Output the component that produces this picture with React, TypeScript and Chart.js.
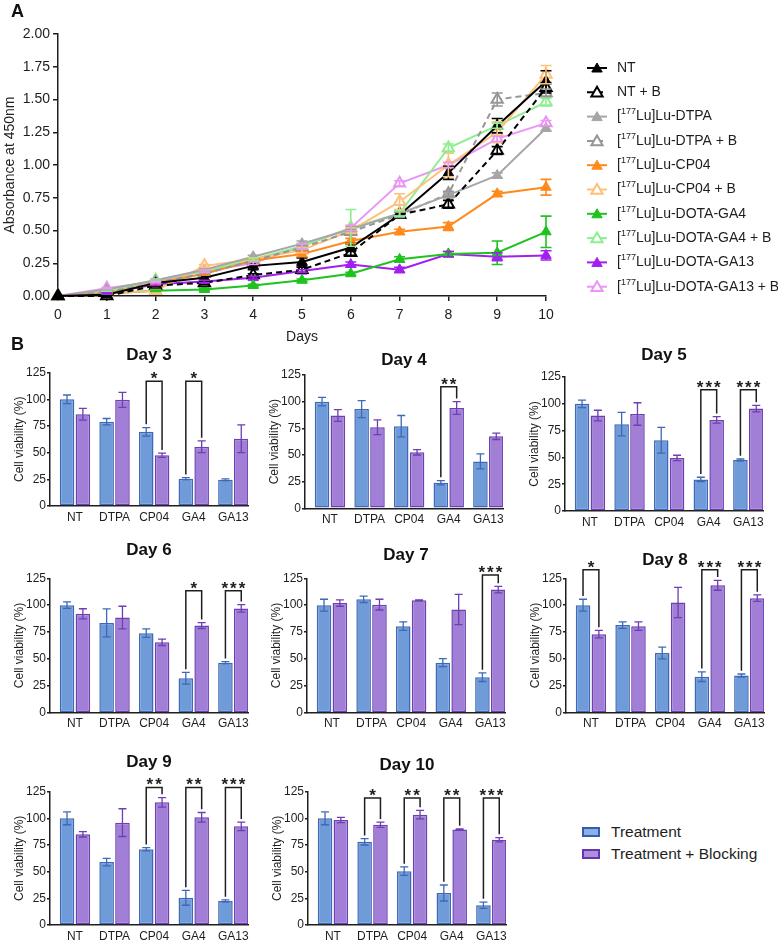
import React, { useEffect, useRef } from 'react';
import { Chart, registerables } from 'chart.js';

Chart.register(...registerables);

const FONT = '"Liberation Sans", Arial, Helvetica, sans-serif';
const INK = '#1e1e1e';

// ---------- Panel A: absorbance growth curves ----------
const days = [0, 1, 2, 3, 4, 5, 6, 7, 8, 9, 10];

const ntMean = [0, 0.01, 0.1, 0.14, 0.23, 0.26, 0.37, 0.62, 0.94, 1.3, 1.64];
const ntSd = [0, 0.005, 0.01, 0.02, 0.03, 0.03, 0.03, 0.02, 0.05, 0.055, 0.08];
const ntBlockMean = [0, 0, 0.08, 0.1, 0.16, 0.2, 0.33, 0.62, 0.7, 1.11, 1.59];
const ntBlockSd = [0, 0, 0.01, 0.01, 0.01, 0.02, 0.02, 0.02, 0.03, 0.03, 0.04];
const dtpaMean = [0, 0.05, 0.12, 0.2, 0.3, 0.4, 0.51, 0.63, 0.77, 0.92, 1.28];
const dtpaSd = [0, 0.005, 0.01, 0.01, 0.01, 0.02, 0.02, 0.02, 0.02, 0.02, 0.02];
const dtpaBlockMean = [0, 0.03, 0.1, 0.17, 0.27, 0.37, 0.49, 0.62, 0.78, 1.5, 1.55];
const dtpaBlockSd = [0, 0.005, 0.01, 0.01, 0.01, 0.02, 0.02, 0.02, 0.02, 0.05, 0.03];
const cp04Mean = [0, 0.02, 0.1, 0.17, 0.27, 0.32, 0.42, 0.49, 0.53, 0.78, 0.83];
const cp04Sd = [0, 0.005, 0.01, 0.01, 0.01, 0.02, 0.02, 0.02, 0.03, 0.02, 0.06];
const cp04BlockMean = [0, 0.02, 0.04, 0.23, 0.28, 0.35, 0.5, 0.72, 1.0, 1.25, 1.69];
const cp04BlockSd = [0, 0.005, 0.01, 0.01, 0.01, 0.02, 0.02, 0.06, 0.09, 0.08, 0.07];
const ga4Mean = [0, 0.02, 0.04, 0.05, 0.08, 0.12, 0.17, 0.28, 0.32, 0.33, 0.49];
const ga4Sd = [0, 0.005, 0.005, 0.01, 0.01, 0.01, 0.01, 0.02, 0.02, 0.09, 0.12];
const ga4BlockMean = [0, 0.03, 0.12, 0.19, 0.28, 0.38, 0.52, 0.63, 1.13, 1.3, 1.48];
const ga4BlockSd = [0, 0.005, 0.01, 0.01, 0.01, 0.02, 0.14, 0.02, 0.03, 0.02, 0.03];
const ga13Mean = [0, 0.02, 0.09, 0.11, 0.14, 0.19, 0.24, 0.2, 0.32, 0.3, 0.31];
const ga13Sd = [0, 0.005, 0.01, 0.01, 0.01, 0.01, 0.02, 0.02, 0.02, 0.03, 0.035];
const ga13BlockMean = [0, 0.06, 0.11, 0.19, 0.25, 0.38, 0.52, 0.86, 1.0, 1.2, 1.32];
const ga13BlockSd = [0, 0.005, 0.01, 0.01, 0.01, 0.02, 0.02, 0.02, 0.02, 0.02, 0.02];

const growthSeries = [
  { label: 'NT', mean: ntMean, sd: ntSd, color: '#000000', open: false, dashed: false },
  { label: 'NT + B', mean: ntBlockMean, sd: ntBlockSd, color: '#000000', open: true, dashed: true },
  { label: '[177Lu]Lu-DTPA', mean: dtpaMean, sd: dtpaSd, color: '#a6a6a6', open: false, dashed: false },
  { label: '[177Lu]Lu-DTPA + B', mean: dtpaBlockMean, sd: dtpaBlockSd, color: '#969696', open: true, dashed: true },
  { label: '[177Lu]Lu-CP04', mean: cp04Mean, sd: cp04Sd, color: '#ff8a1c', open: false, dashed: false },
  { label: '[177Lu]Lu-CP04 + B', mean: cp04BlockMean, sd: cp04BlockSd, color: '#ffc07a', open: true, dashed: false },
  { label: '[177Lu]Lu-DOTA-GA4', mean: ga4Mean, sd: ga4Sd, color: '#1fc21f', open: false, dashed: false },
  { label: '[177Lu]Lu-DOTA-GA4 + B', mean: ga4BlockMean, sd: ga4BlockSd, color: '#8fee8f', open: true, dashed: false },
  { label: '[177Lu]Lu-DOTA-GA13', mean: ga13Mean, sd: ga13Sd, color: '#a31ff0', open: false, dashed: false },
  { label: '[177Lu]Lu-DOTA-GA13 + B', mean: ga13BlockMean, sd: ga13BlockSd, color: '#e996f4', open: true, dashed: false },
];

// ---------- Panel B: cell viability per day ----------
const barCategories = ['NT', 'DTPA', 'CP04', 'GA4', 'GA13'];

const day3Treatment = [100, 79, 69.5, 25.5, 24.5];
const day3TreatmentSd = [4, 3, 4, 1, 1];
const day3Blocking = [86, 99.5, 47.5, 55.5, 63];
const day3BlockingSd = [5.5, 7, 2, 5.5, 13];
const day3Sig = [{ index: 2, label: '*' }, { index: 3, label: '*' }];

const day4Treatment = [100, 93, 77, 24, 44];
const day4TreatmentSd = [4, 8, 10, 2, 7];
const day4Blocking = [87, 76, 52.5, 94, 67.5];
const day4BlockingSd = [5.5, 7, 2.5, 6, 3];
const day4Sig = [{ index: 3, label: '**' }];

const day5Treatment = [100, 81, 66, 29.5, 47.5];
const day5TreatmentSd = [3.5, 11, 12, 2, 1];
const day5Blocking = [89, 90.5, 49.5, 85, 95.5];
const day5BlockingSd = [5, 10.5, 2.5, 3, 3];
const day5Sig = [{ index: 3, label: '***' }, { index: 4, label: '***' }];

const day6Treatment = [100, 83.5, 74, 32, 46.5];
const day6TreatmentSd = [3, 13, 4, 5.5, 1];
const day6Blocking = [92, 88.5, 65.5, 81, 97];
const day6BlockingSd = [4.7, 10.5, 3, 2.7, 3.5];
const day6Sig = [{ index: 3, label: '*' }, { index: 4, label: '***' }];

const day7Treatment = [100, 105.5, 80.5, 46.5, 33];
const day7TreatmentSd = [5.5, 3, 4, 3.7, 4];
const day7Blocking = [102, 100.5, 104.5, 96, 114.5];
const day7BlockingSd = [3, 5, 0.5, 14, 3];
const day7Sig = [{ index: 4, label: '***' }];

const day8Treatment = [100, 81.5, 55.5, 33.5, 34.5];
const day8TreatmentSd = [5.5, 3, 5.5, 4.5, 1.5];
const day8Blocking = [73, 80.5, 102.5, 118.5, 106.5];
const day8BlockingSd = [3.5, 4, 14, 4.6, 3];
const day8Sig = [{ index: 0, label: '*' }, { index: 3, label: '***' }, { index: 4, label: '***' }];

const day9Treatment = [100, 59, 71, 25.5, 22.5];
const day9TreatmentSd = [6, 3.5, 1.5, 7, 1];
const day9Blocking = [85, 96, 115, 101, 92.5];
const day9BlockingSd = [2.5, 13, 4.5, 4.5, 4];
const day9Sig = [{ index: 2, label: '**' }, { index: 3, label: '**' }, { index: 4, label: '***' }];

const day10Treatment = [100, 78, 50.5, 30, 18.5];
const day10TreatmentSd = [6, 3, 4, 7.5, 3];
const day10Blocking = [98.5, 94, 103.5, 89.5, 80];
const day10BlockingSd = [2.5, 2.5, 4, 0.5, 2];
const day10Sig = [{ index: 1, label: '*' }, { index: 2, label: '**' }, { index: 3, label: '**' }, { index: 4, label: '***' }];

const viabilityDays = [
  { title: 'Day 3', treat: day3Treatment, treatSd: day3TreatmentSd, block: day3Blocking, blockSd: day3BlockingSd, sig: day3Sig, bracketTop: 117 },
  { title: 'Day 4', treat: day4Treatment, treatSd: day4TreatmentSd, block: day4Blocking, blockSd: day4BlockingSd, sig: day4Sig, bracketTop: 114 },
  { title: 'Day 5', treat: day5Treatment, treatSd: day5TreatmentSd, block: day5Blocking, blockSd: day5BlockingSd, sig: day5Sig, bracketTop: 113 },
  { title: 'Day 6', treat: day6Treatment, treatSd: day6TreatmentSd, block: day6Blocking, blockSd: day6BlockingSd, sig: day6Sig, bracketTop: 113.5 },
  { title: 'Day 7', treat: day7Treatment, treatSd: day7TreatmentSd, block: day7Blocking, blockSd: day7BlockingSd, sig: day7Sig, bracketTop: 128 },
  { title: 'Day 8', treat: day8Treatment, treatSd: day8TreatmentSd, block: day8Blocking, blockSd: day8BlockingSd, sig: day8Sig, bracketTop: 133 },
  { title: 'Day 9', treat: day9Treatment, treatSd: day9TreatmentSd, block: day9Blocking, blockSd: day9BlockingSd, sig: day9Sig, bracketTop: 129 },
  { title: 'Day 10', treat: day10Treatment, treatSd: day10TreatmentSd, block: day10Blocking, blockSd: day10BlockingSd, sig: day10Sig, bracketTop: 119 },
];

// Page placement of each small chart: y-axis x, pixel rows of 125 and 0, title centre
const panelSlots = [
  { axisX: 50, top: 372.6, bottom: 506, titleY: 355 },
  { axisX: 305, top: 375, bottom: 508.3, titleY: 360 },
  { axisX: 565, top: 377, bottom: 511, titleY: 355 },
  { axisX: 50, top: 578.3, bottom: 712.7, titleY: 550 },
  { axisX: 307, top: 578.3, bottom: 712.7, titleY: 555 },
  { axisX: 566, top: 578.3, bottom: 712.7, titleY: 560 },
  { axisX: 50, top: 791.7, bottom: 925, titleY: 762 },
  { axisX: 308, top: 791.7, bottom: 925, titleY: 765 },
];

const BLUE_FILL = '#6f9bd9';
const BLUE_EDGE = '#3e69b6';
const PURPLE_FILL = '#a17fd6';
const PURPLE_EDGE = '#6d3fb2';

// ---------- plugins ----------
const errorBarsPlugin = {
  id: 'errorBars',
  afterDatasetsDraw(chart: any, _args: any, opts: any) {
    const ctx = chart.ctx;
    const yScale = chart.scales.y;
    chart.data.datasets.forEach((ds: any, di: number) => {
      if (!ds.errors) return;
      const meta = chart.getDatasetMeta(di);
      ctx.save();
      ctx.strokeStyle = ds.errorColor || ds.borderColor;
      ctx.lineWidth = opts.lineWidth ?? 1.5;
      ctx.setLineDash([]);
      const c = opts.cap ?? 4;
      meta.data.forEach((el: any, i: number) => {
        const e = ds.errors[i];
        if (!e) return;
        const v = meta.controller.getParsed(i).y;
        const x = el.x;
        const yHi = yScale.getPixelForValue(v + e);
        const yLo = yScale.getPixelForValue(v - e);
        ctx.beginPath();
        ctx.moveTo(x, yHi);
        ctx.lineTo(x, yLo);
        ctx.moveTo(x - c, yHi);
        ctx.lineTo(x + c, yHi);
        ctx.moveTo(x - c, yLo);
        ctx.lineTo(x + c, yLo);
        ctx.stroke();
      });
      ctx.restore();
    });
  },
};

const bracketPlugin = {
  id: 'sigBrackets',
  afterDraw(chart: any, _args: any, opts: any) {
    const items = opts.items || [];
    if (!items.length) return;
    const ctx = chart.ctx;
    const y = chart.scales.y;
    const m0 = chart.getDatasetMeta(0);
    const m1 = chart.getDatasetMeta(1);
    const d0 = chart.data.datasets[0];
    const d1 = chart.data.datasets[1];
    const topY = y.getPixelForValue(opts.top);
    ctx.save();
    ctx.strokeStyle = INK;
    ctx.fillStyle = INK;
    ctx.lineWidth = 1.5;
    ctx.font = `bold 17px ${FONT}`;
    ctx.textAlign = 'center';
    ctx.textBaseline = 'alphabetic';
    (ctx as any).letterSpacing = '2px';
    items.forEach((it: any) => {
      const i = it.index;
      const x0 = m0.data[i].x;
      const x1 = m1.data[i].x;
      const leg0 = y.getPixelForValue(d0.data[i].y + d0.errors[i] + opts.gap);
      const leg1 = y.getPixelForValue(d1.data[i].y + d1.errors[i] + opts.gap);
      ctx.beginPath();
      ctx.moveTo(x0, leg0);
      ctx.lineTo(x0, topY);
      ctx.lineTo(x1, topY);
      ctx.lineTo(x1, leg1);
      ctx.stroke();
      ctx.fillText(it.label, (x0 + x1) / 2 + 1, topY + 3);
    });
    ctx.restore();
  },
};

function drawTriangle(ctx: CanvasRenderingContext2D, x: number, y: number, r: number, fill: string, stroke: string, lw: number) {
  ctx.beginPath();
  ctx.moveTo(x, y - r);
  ctx.lineTo(x + r * 0.866, y + r * 0.5);
  ctx.lineTo(x - r * 0.866, y + r * 0.5);
  ctx.closePath();
  ctx.fillStyle = fill;
  ctx.fill();
  ctx.lineWidth = lw;
  ctx.strokeStyle = stroke;
  ctx.stroke();
}

function drawIsotopeLabel(ctx: CanvasRenderingContext2D, text: string, x: number, y: number, size: number) {
  const m = /^\[(\d+)(.*)$/.exec(text);
  ctx.textAlign = 'left';
  ctx.textBaseline = 'middle';
  ctx.font = `${size}px ${FONT}`;
  if (!m) {
    ctx.fillText(text, x, y);
    return;
  }
  ctx.fillText('[', x, y);
  let cx = x + ctx.measureText('[').width;
  const sup = Math.round(size * 0.66);
  ctx.font = `${sup}px ${FONT}`;
  ctx.fillText(m[1], cx, y - size * 0.33);
  cx += ctx.measureText(m[1]).width;
  ctx.font = `${size}px ${FONT}`;
  ctx.fillText(m[2], cx, y);
}

const growthLegendPlugin = {
  id: 'growthLegend',
  afterDraw(chart: any, _args: any, opts: any) {
    const ctx = chart.ctx;
    ctx.save();
    chart.data.datasets.forEach((ds: any, i: number) => {
      const y = opts.y0 + i * opts.step;
      ctx.strokeStyle = ds.borderColor;
      ctx.lineWidth = 2;
      ctx.setLineDash(ds.borderDash || []);
      ctx.beginPath();
      ctx.moveTo(opts.x0, y);
      ctx.lineTo(opts.x0 + opts.lineLen, y);
      ctx.stroke();
      ctx.setLineDash([]);
      drawTriangle(ctx, opts.x0 + opts.lineLen / 2, y + 1, ds.pointRadius, ds.pointBackgroundColor, ds.pointBorderColor, ds.pointBorderWidth);
      ctx.fillStyle = INK;
      drawIsotopeLabel(ctx, ds.label, opts.textX, y, opts.fontSize);
    });
    ctx.restore();
  },
};

// ---------- charts ----------
function GrowthChart() {
  const ref = useRef<HTMLCanvasElement>(null);
  useEffect(() => {
    const datasets = growthSeries.map((s) => ({
      label: s.label,
      data: s.mean.map((v, i) => ({ x: days[i], y: v })),
      errors: s.sd,
      borderColor: s.color,
      backgroundColor: s.color,
      borderWidth: 2,
      borderDash: s.dashed ? [6, 4] : [],
      pointStyle: 'triangle',
      pointRadius: s.open ? 6.5 : 6,
      pointBackgroundColor: s.open ? '#ffffff' : s.color,
      pointBorderColor: s.color,
      pointBorderWidth: s.open ? 2 : 1,
      tension: 0,
      clip: false,
    }));
    const tickFont = { family: FONT, size: 14 };
    const chart = new Chart(ref.current as HTMLCanvasElement, {
      type: 'line',
      data: { datasets } as any,
      options: {
        responsive: false,
        animation: false,
        layout: { padding: { top: 34, right: 232, left: 0, bottom: 0 } },
        plugins: {
          legend: { display: false },
          tooltip: { enabled: false },
          errorBars: { cap: 5.5, lineWidth: 1.6 },
          growthLegend: { x0: 587, lineLen: 20, textX: 617, y0: 68, step: 24.3, fontSize: 14 },
        } as any,
        scales: {
          x: {
            type: 'linear',
            min: 0,
            max: 10,
            ticks: { stepSize: 1, font: tickFont, color: INK, padding: 6 },
            grid: { display: true, drawOnChartArea: false, drawTicks: true, tickLength: 5, color: INK, lineWidth: 1.5 },
            border: { display: true, color: INK, width: 1.5 },
            title: { display: true, text: 'Days', font: tickFont, color: INK, padding: { top: 0, bottom: 4.6 } },
            afterFit: (s: any) => {
              s.height = 54;
            },
          },
          y: {
            min: 0,
            max: 2,
            ticks: { stepSize: 0.25, font: tickFont, color: INK, padding: 3, callback: (v: any) => Number(v).toFixed(2) },
            grid: { display: true, drawOnChartArea: false, drawTicks: true, tickLength: 5, color: INK, lineWidth: 1.5 },
            border: { display: true, color: INK, width: 1.5 },
            title: { display: true, text: 'Absorbance at 450nm', font: tickFont, color: INK, padding: { top: 1.6, bottom: 0 } },
            afterFit: (s: any) => {
              s.width = 58;
            },
          },
        } as any,
      },
      plugins: [errorBarsPlugin, growthLegendPlugin],
    });
    return () => chart.destroy();
  }, []);
  return <canvas ref={ref} width={778} height={350} style={{ position: 'absolute', left: 0, top: 0 }} />;
}

function ViabilityChart({ day, slot }: { day: any; slot: any }) {
  const ref = useRef<HTMLCanvasElement>(null);
  const canvasTop = Math.floor(slot.top) - 60;
  const headH = slot.top - canvasTop;
  const plotBottom = slot.bottom - canvasTop;
  const height = Math.ceil(plotBottom + 24);
  const xAxisH = height - plotBottom;
  const width = 254;
  useEffect(() => {
    const lh = 17 * 1.2;
    const padTop = slot.titleY - canvasTop - lh / 2;
    const padBottom = headH - lh - padTop;
    const f12 = { family: FONT, size: 12 };
    const chart = new Chart(ref.current as HTMLCanvasElement, {
      type: 'bar',
      data: {
        datasets: [
          {
            label: 'Treatment',
            data: day.treat.map((v: number, i: number) => ({ x: i, y: v })),
            errors: day.treatSd,
            backgroundColor: BLUE_FILL,
            borderColor: BLUE_EDGE,
            borderWidth: 1.5,
            borderSkipped: false,
          },
          {
            label: 'Treatment + Blocking',
            data: day.block.map((v: number, i: number) => ({ x: i, y: v })),
            errors: day.blockSd,
            backgroundColor: PURPLE_FILL,
            borderColor: PURPLE_EDGE,
            borderWidth: 1.5,
            borderSkipped: false,
          },
        ],
      } as any,
      options: {
        responsive: false,
        animation: false,
        layout: { padding: { left: 0, right: 6, top: 0, bottom: 0 } },
        datasets: { bar: { categoryPercentage: 0.8, barPercentage: 0.92 } },
        plugins: {
          legend: { display: false },
          tooltip: { enabled: false },
          title: {
            display: true,
            text: day.title,
            fullSize: false,
            color: '#111',
            font: { family: FONT, size: 17, weight: 'bold', lineHeight: 1.2 },
            padding: { top: padTop, bottom: padBottom },
          },
          errorBars: { cap: 4, lineWidth: 1.3 },
          sigBrackets: { items: day.sig, top: day.bracketTop, gap: 3 },
        } as any,
        scales: {
          x: {
            type: 'linear',
            min: -0.63,
            max: 4.37,
            offset: false,
            afterBuildTicks: (s: any) => {
              s.ticks = barCategories.map((_, i) => ({ value: i }));
            },
            ticks: {
              callback: (v: any) => barCategories[v] ?? '',
              font: f12,
              color: INK,
              padding: 4,
              maxRotation: 0,
              autoSkip: false,
            },
            grid: { display: false, drawTicks: false, offset: false },
            border: { display: true, color: INK, width: 1.5 },
            afterFit: (s: any) => {
              s.height = xAxisH;
            },
          },
          y: {
            min: 0,
            max: 125,
            ticks: { stepSize: 25, font: f12, color: INK, padding: 1 },
            grid: { display: true, drawOnChartArea: false, drawTicks: true, tickLength: 3, color: INK, lineWidth: 1.5 },
            border: { display: true, color: INK, width: 1.5 },
            title: { display: true, text: 'Cell viability (%)', font: f12, color: INK, padding: { top: 12.8, bottom: 0 } },
            afterFit: (s: any) => {
              s.width = 50;
            },
          },
        } as any,
      },
      plugins: [errorBarsPlugin, bracketPlugin],
    });
    return () => chart.destroy();
  }, []);
  return (
    <canvas
      ref={ref}
      width={width}
      height={height}
      style={{ position: 'absolute', left: slot.axisX - 50, top: canvasTop }}
    />
  );
}

function LegendKey({ top, fill, edge, text }: { top: number; fill: string; edge: string; text: string }) {
  return (
    <div style={{ position: 'absolute', left: 582, top, height: 20, display: 'flex', alignItems: 'center' }}>
      <span
        style={{
          display: 'inline-block',
          width: 14,
          height: 6,
          background: fill,
          border: `2px solid ${edge}`,
        }}
      />
      <span style={{ marginLeft: 11, font: `15.5px ${FONT}`, color: INK, whiteSpace: 'nowrap' }}>{text}</span>
    </div>
  );
}

export default function App() {
  return (
    <div style={{ position: 'absolute', left: 0, top: 0, width: 778, height: 944, background: '#ffffff', overflow: 'hidden' }}>
      <GrowthChart />
      {viabilityDays.map((d, i) => (
        <ViabilityChart key={d.title} day={d} slot={panelSlots[i]} />
      ))}
      <div style={{ position: 'absolute', left: 11, top: 1, font: `bold 18px ${FONT}`, lineHeight: '20px', color: '#111' }}>A</div>
      <div style={{ position: 'absolute', left: 11, top: 334, font: `bold 18px ${FONT}`, lineHeight: '20px', color: '#111' }}>B</div>
      <LegendKey top={822} fill="#8eaee4" edge="#2f5fb3" text="Treatment" />
      <LegendKey top={844} fill="#ad90dc" edge="#6436b0" text="Treatment + Blocking" />
    </div>
  );
}
